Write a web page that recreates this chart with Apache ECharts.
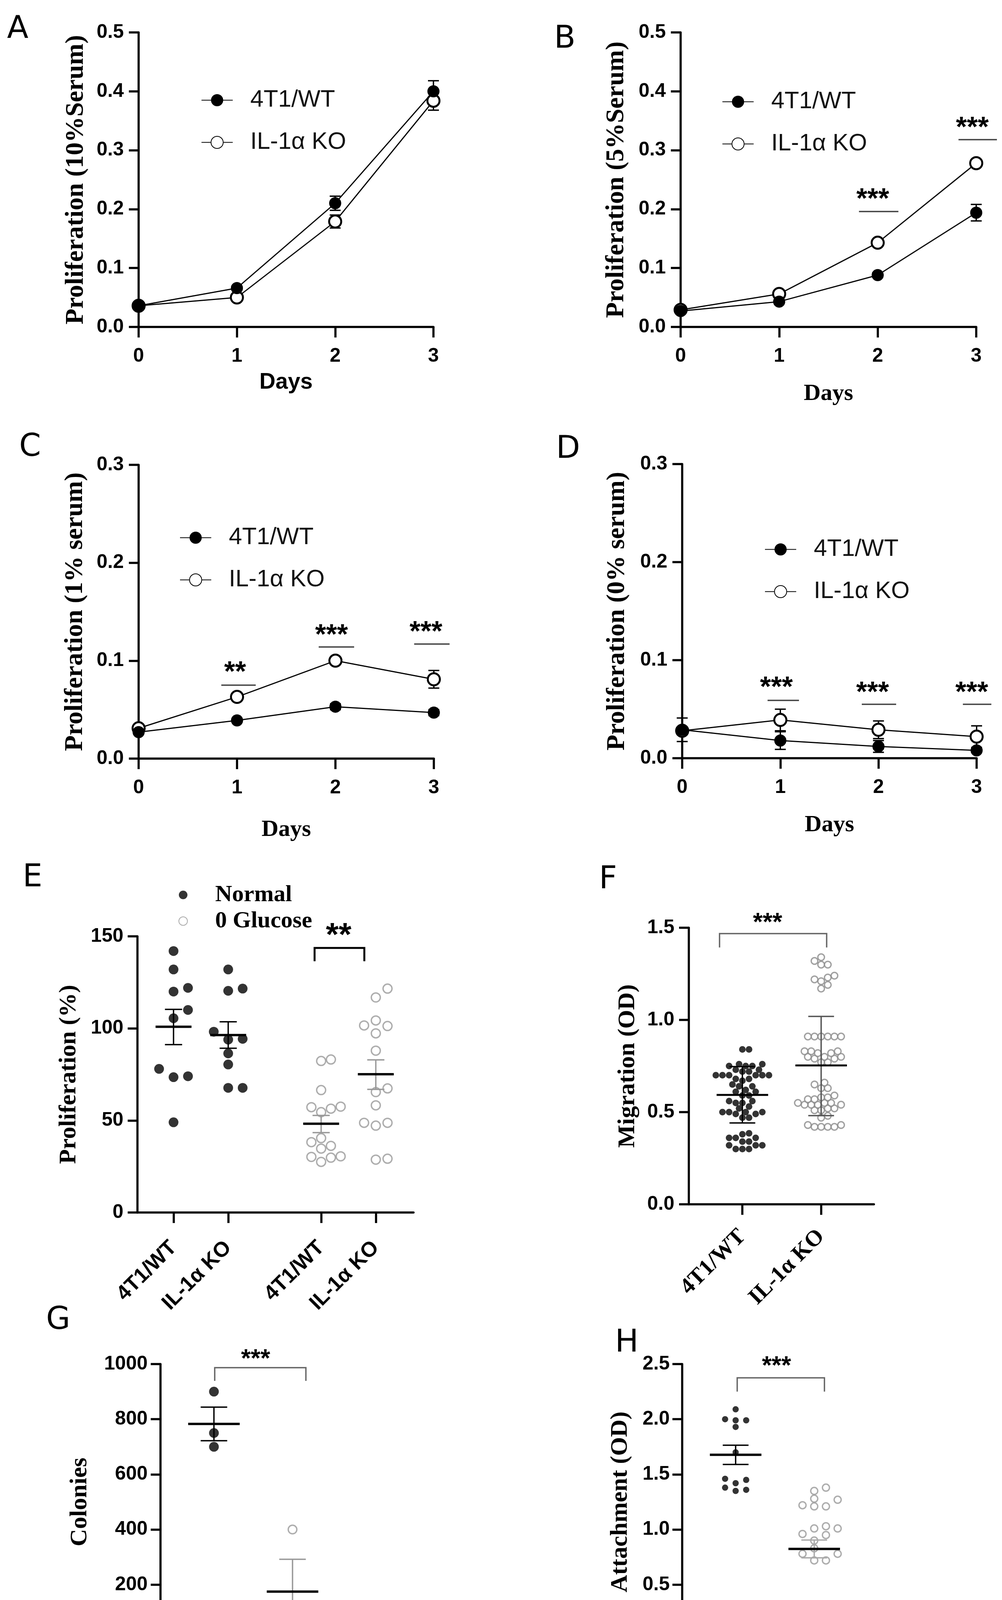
<!DOCTYPE html>
<html>
<head>
<meta charset="utf-8">
<title>4T1 WT vs IL-1α KO</title>
<script src="https://cdn.jsdelivr.net/npm/echarts@6/dist/echarts.min.js"></script>
<style>
  html, body { margin: 0; background: #fff; }
  #main { width: 2566px; height: 4475px; }
</style>
</head>
<body>
<div id="main"></div>
<script>
// ---- data ----
var days = [0, 1, 2, 3];
var wtName = '4T1/WT';
var koName = 'IL-1α KO';

// A: 10% serum
var aWT = [0.036, 0.066, 0.210, 0.400];
var aWTErr = [0, 0.003, 0.012, 0.018];
var aKO = [0.036, 0.050, 0.179, 0.384];
var aKOErr = [0, 0, 0.011, 0.016];

// B: 5% serum
var bWT = [0.027, 0.043, 0.088, 0.194];
var bWTErr = [0, 0, 0.004, 0.014];
var bKO = [0.029, 0.056, 0.143, 0.278];
var bKOErr = [0, 0, 0.005, 0.006];
// [x1, x2, y, drop, textX, textY, label]
var bSig = [[1.81, 2.21, 0.196, null, 1.95, 0.225, '***'],
            [2.82, 3.21, 0.318, null, 2.96, 0.346, '***']];

// C: 1% serum
var cWT = [0.027, 0.039, 0.053, 0.047];
var cWTErr = [0, 0, 0.003, 0.003];
var cKO = [0.031, 0.063, 0.100, 0.081];
var cKOErr = [0, 0.003, 0.003, 0.009];
var cSig = [[0.84, 1.19, 0.075, null, 0.98, 0.093, '**'],
            [1.83, 2.19, 0.114, null, 1.96, 0.131, '***'],
            [2.80, 3.16, 0.117, null, 2.92, 0.134, '***']];

// D: 0% serum
var dWT = [0.029, 0.018, 0.012, 0.008];
var dWTErr = [0.012, 0.009, 0.006, 0.002];
var dKO = [0.028, 0.039, 0.029, 0.022];
var dKOErr = [0.004, 0.011, 0.009, 0.011];
var dSig = [[0.87, 1.19, 0.059, null, 0.96, 0.077, '***'],
            [1.83, 2.18, 0.055, null, 1.94, 0.072, '***'],
            [2.86, 3.15, 0.055, null, 2.95, 0.072, '***']];

// E: proliferation (%), normal vs 0 glucose
var eCenters = [0.66, 1.66, 3.36, 4.36];
var eNames = ['4T1/WT', 'IL-1α KO', '4T1/WT', 'IL-1α KO'];
var eNormWT = [142, 132, 122, 120, 110, 105.5, 78, 73.5, 74, 49];
var eNormKO = [132, 121.6, 120.4, 98.2, 94.3, 93.9, 86.4, 80.4, 67.7, 67.7];
var eGluWT = [82.3, 83.1, 66.5, 57.2, 57.5, 54.5, 56.4, 40.4, 38.2, 36.2, 34.7, 30.5, 29.8, 30.2, 27.5];
var eGluKO = [121.6, 116.8, 104.3, 101.6, 101.3, 97.3, 87.9, 67.4, 65.4, 58.2, 48.7, 48.7, 47.2, 28.7, 29.2];
// [x, mean, low, high]
var eStats = [[0.66, 100.9, 91.2, 110.3], [1.66, 96.4, 89.2, 103.6],
              [3.36, 48.2, 43.4, 52.7], [4.36, 75.1, 66.9, 82.9]];
var eSig = [[3.24, 4.15, 143.7, 136.5, 3.68, 153.3, '**']];

// F: migration (OD)
var fCenters = [0.68, 1.68];
var fNames = ['4T1/WT', 'IL-1α KO'];
var fWT = [0.84, 0.84, 0.76, 0.76, 0.75, 0.75, 0.75, 0.73, 0.73, 0.72, 0.72,
           0.70, 0.70, 0.70, 0.70, 0.70, 0.70, 0.68, 0.68, 0.67, 0.65, 0.64, 0.64,
           0.62, 0.61, 0.61, 0.59, 0.59, 0.56, 0.56, 0.55, 0.55, 0.53, 0.52,
           0.50, 0.50, 0.50, 0.50, 0.49, 0.49, 0.47, 0.47, 0.38, 0.385,
           0.36, 0.36, 0.36, 0.34, 0.34, 0.32, 0.32, 0.32, 0.30, 0.30, 0.30];
var fKO = [1.34, 1.32, 1.30, 1.30, 1.24, 1.23, 1.22, 1.21, 1.19, 1.17,
           0.91, 0.91, 0.91, 0.91, 0.91, 0.91, 0.83, 0.83, 0.83, 0.82, 0.82,
           0.80, 0.80, 0.80, 0.79, 0.79, 0.77, 0.77, 0.66, 0.65, 0.63, 0.63,
           0.59, 0.58, 0.58, 0.57, 0.57, 0.55, 0.55, 0.55, 0.54, 0.54, 0.54, 0.54,
           0.52, 0.52, 0.51, 0.51, 0.48, 0.47, 0.43, 0.43, 0.42, 0.42, 0.42, 0.42];
var fStats = [[0.68, 0.593, 0.441, 0.747], [1.68, 0.753, 0.481, 1.019]];
var fSig = [[0.39, 1.75, 1.468, 1.393, 1.0, 1.55, '***']];

// G: colonies
var gCenters = [0.68, 1.68];
var gWT = [900, 750, 700];
var gKO = [400, 115, 5];
var gStats = [[0.68, 783, 722, 844], [1.68, 175, 55, 292]];
var gSig = [[0.69, 1.85, 987, 939, 1.21, 1033, '***']];

// H: attachment (OD)
var hCenters = [0.68, 1.68];
var hWT = [2.09, 2.00, 1.99, 1.99, 1.93, 1.70, 1.46, 1.45, 1.42, 1.38, 1.36, 1.35];
var hKO = [1.38, 1.35, 1.28, 1.27, 1.22, 1.21, 1.21, 1.03, 1.01, 1.01, 0.96, 0.95,
           0.90, 0.83, 0.78, 0.78, 0.72, 0.72, 0.24, 0.22, 0.20, 0.20, 0.20, 0.17];
var hStats = [[0.68, 1.678, 1.590, 1.764], [1.68, 0.824, 0.744, 0.905]];
var hSig = [[0.70, 1.81, 2.375, 2.25, 1.2, 2.52, '***']];

// ---- layout / style ----
var SANS = "'Liberation Sans', Arial, sans-serif";
var SERIF = "'Liberation Serif', 'Times New Roman', serif";
var AXW = 5.5;

var grids = [
  { left: 355, top: 83, width: 755, height: 754 },
  { left: 1743, top: 83, width: 757, height: 754 },
  { left: 355, top: 1190, width: 756, height: 752 },
  { left: 1747, top: 1188, width: 754, height: 753 },
  { left: 352, top: 2397, width: 707, height: 707 },
  { left: 1764, top: 2375, width: 474, height: 708 },
  { left: 411, top: 3492, width: 475, height: 706 },
  { left: 1747, top: 3492, width: 475, height: 706 }
];
var xMax = [3, 3, 3, 3, 5.05, 2.35, 2.36, 2.36];
var yMax = [0.5, 0.5, 0.3, 0.3, 150, 1.5, 1000, 2.5];

function pxX(i) { return grids[i].width / xMax[i]; }
function pxY(i) { return grids[i].height / yMax[i]; }

// column scatter layout: points pushed sideways in lanes until they don't overlap
function swarm(vals, cx, gi, step, minD) {
  var kx = pxX(gi), ky = pxY(gi);
  var order = vals.map(function (v, i) { return i; })
    .sort(function (a, b) { return vals[a] - vals[b]; });
  var placed = [];
  order.forEach(function (i) {
    var y = vals[i] * ky;
    for (var k = 0; k < 60; k++) {
      var lane = k === 0 ? 0 : (k % 2 ? (k + 1) / 2 : -k / 2);
      var x = lane * step;
      var hit = placed.some(function (p) {
        var dx = p[0] - x, dy = p[1] - y;
        return dx * dx + dy * dy < minD * minD;
      });
      if (!hit) { placed.push([x, y, i]); break; }
    }
  });
  return placed.map(function (p) { return [cx + p[0] / kx, vals[p[2]]]; });
}

function axisLineStyle() {
  return { show: true, onZero: false, lineStyle: { color: '#000', width: AXW } };
}

function yAxis(gi, step, digits, name, gap, nameSize, labelMargin) {
  return {
    type: 'value', gridIndex: gi, min: 0, max: yMax[gi], interval: step,
    name: name, nameLocation: 'middle', nameGap: gap, nameRotate: 90,
    nameTextStyle: { fontFamily: SERIF, fontWeight: 'bold', fontSize: nameSize, color: '#000' },
    axisLine: axisLineStyle(),
    axisTick: { show: true, length: 25, lineStyle: { color: '#000', width: AXW } },
    axisLabel: {
      fontFamily: SANS, fontWeight: 'bold', fontSize: 50, color: '#000', margin: labelMargin,
      formatter: function (v) { return v.toFixed(digits); }
    },
    splitLine: { show: false }
  };
}

function dayAxis(gi, gap, fam, size) {
  return {
    type: 'value', gridIndex: gi, min: 0, max: 3, interval: 1,
    name: 'Days', nameLocation: 'middle', nameGap: gap,
    nameTextStyle: { fontFamily: fam, fontWeight: 'bold', fontSize: size, color: '#000' },
    axisLine: axisLineStyle(),
    axisTick: { show: true, length: 27, lineStyle: { color: '#000', width: AXW } },
    axisLabel: { fontFamily: SANS, fontWeight: 'bold', fontSize: 50, color: '#000', margin: 50 },
    splitLine: { show: false }
  };
}

function groupAxis(gi, centers, names, fam, size, margin) {
  return {
    type: 'value', gridIndex: gi, min: 0, max: xMax[gi],
    axisLine: axisLineStyle(),
    axisTick: { show: true, length: 27, customValues: centers, lineStyle: { color: '#000', width: AXW } },
    axisLabel: {
      customValues: centers, rotate: 45, margin: margin,
      fontFamily: fam, fontWeight: 'bold', fontSize: size, color: '#000',
      formatter: function (v) {
        var best = 0;
        for (var i = 1; i < centers.length; i++) {
          if (Math.abs(centers[i] - v) < Math.abs(centers[best] - v)) best = i;
        }
        return names[best];
      }
    },
    splitLine: { show: false }
  };
}

function errRender(rows) {
  return function (params, api) {
    var r = rows[params.dataIndex];
    if (!r[2]) return null;
    var hi = api.coord([r[0], r[1] + r[2]]), lo = api.coord([r[0], r[1] - r[2]]);
    var c = 14, st = { stroke: '#000', lineWidth: 3.5 };
    return { type: 'group', children: [
      { type: 'line', shape: { x1: hi[0], y1: hi[1], x2: lo[0], y2: lo[1] }, style: st },
      { type: 'line', shape: { x1: hi[0] - c, y1: hi[1], x2: hi[0] + c, y2: hi[1] }, style: st },
      { type: 'line', shape: { x1: lo[0] - c, y1: lo[1], x2: lo[0] + c, y2: lo[1] }, style: st }
    ]};
  };
}

function sigRender(rows, color, lw, fs) {
  return function (params, api) {
    var r = rows[params.dataIndex];
    var p1 = api.coord([r[0], r[2]]), p2 = api.coord([r[1], r[2]]);
    var t = api.coord([r[4], r[5]]);
    var kids = [];
    if (r[3] != null) {
      var d = api.coord([r[0], r[3]]);
      kids.push({ type: 'polyline', shape: { points: [[p1[0], d[1]], p1, p2, [p2[0], d[1]]] },
                  style: { stroke: color, lineWidth: lw, fill: 'none' } });
    } else {
      kids.push({ type: 'line', shape: { x1: p1[0], y1: p1[1], x2: p2[0], y2: p2[1] },
                  style: { stroke: color, lineWidth: lw } });
    }
    kids.push({ type: 'text', style: {
      text: r[6], x: t[0], y: t[1] + fs * 0.2, fill: '#000', fontSize: fs, fontWeight: 'bold',
      fontFamily: SANS, align: 'center', verticalAlign: 'middle' } });
    return { type: 'group', children: kids };
  };
}

function statRender(rows, errColors, halfMean, halfCap, meanW) {
  return function (params, api) {
    var r = rows[params.dataIndex];
    var m = api.coord([r[0], r[1]]), lo = api.coord([r[0], r[2]]), hi = api.coord([r[0], r[3]]);
    var st = { stroke: errColors[params.dataIndex], lineWidth: 3.5 };
    return { type: 'group', children: [
      { type: 'line', shape: { x1: lo[0], y1: lo[1], x2: hi[0], y2: hi[1] }, style: st },
      { type: 'line', shape: { x1: hi[0] - halfCap, y1: hi[1], x2: hi[0] + halfCap, y2: hi[1] }, style: st },
      { type: 'line', shape: { x1: lo[0] - halfCap, y1: lo[1], x2: lo[0] + halfCap, y2: lo[1] }, style: st },
      { type: 'line', shape: { x1: m[0] - halfMean, y1: m[1], x2: m[0] + halfMean, y2: m[1] },
        style: { stroke: '#000', lineWidth: meanW } }
    ]};
  };
}

function pairs(xs, ys) { return xs.map(function (x, i) { return [x, ys[i]]; }); }

function timeSeries(gi, wt, wtErr, ko, koErr, sig) {
  var errRows = days.map(function (d, i) { return [d, wt[i], wtErr[i]]; })
    .concat(days.map(function (d, i) { return [d, ko[i], koErr[i]]; }));
  var list = [
    { type: 'custom', xAxisIndex: gi, yAxisIndex: gi, z: 1, clip: false,
      renderItem: errRender(errRows),
      data: errRows.map(function (r) { return [r[0], r[1]]; }) },
    { name: koName, type: 'line', xAxisIndex: gi, yAxisIndex: gi, z: 3,
      data: pairs(days, ko), symbol: 'circle', symbolSize: 31,
      itemStyle: { color: '#fff', borderColor: '#000', borderWidth: 5 },
      lineStyle: { color: '#000', width: 3 } },
    { name: wtName, type: 'line', xAxisIndex: gi, yAxisIndex: gi, z: 3,
      data: pairs(days, wt), symbol: 'circle', symbolSize: 31,
      itemStyle: { color: '#000' },
      lineStyle: { color: '#000', width: 3 } }
  ];
  if (sig) {
    list.push({ type: 'custom', xAxisIndex: gi, yAxisIndex: gi, z: 4, clip: false,
      renderItem: sigRender(sig, '#444', 3.5, 72),
      data: sig.map(function (r) { return [r[0], r[2]]; }) });
  }
  return list;
}

function dotSeries(gi, name, data, size, filled, grey) {
  return { name: name, type: 'scatter', xAxisIndex: gi, yAxisIndex: gi, z: 2,
    data: data, symbol: 'circle', symbolSize: size,
    itemStyle: filled ? { color: '#000' } : { color: '#fff', borderColor: grey, borderWidth: 3.5 } };
}

function statSeries(gi, rows, colors, halfMean, halfCap, meanW) {
  return { type: 'custom', xAxisIndex: gi, yAxisIndex: gi, z: 3, clip: false,
    renderItem: statRender(rows, colors, halfMean, halfCap, meanW),
    data: rows.map(function (r) { return [r[0], r[1]]; }) };
}

function sigSeries(gi, rows, color, lw, fs) {
  return { type: 'custom', xAxisIndex: gi, yAxisIndex: gi, z: 4, clip: false,
    renderItem: sigRender(rows, color, lw, fs),
    data: rows.map(function (r) { return [r[0], r[2]]; }) };
}

function lineLegend(left, top) {
  return { data: [wtName, koName], orient: 'vertical', left: left, top: top, padding: 0,
    itemWidth: 80, itemHeight: 39, itemGap: 47, selectedMode: false,
    textStyle: { fontFamily: SANS, fontSize: 61, color: '#111', padding: [0, 0, 0, 40] } };
}

var letters = [['A', 18, 36], ['B', 1419, 61], ['C', 49, 1106], ['D', 1424, 1111],
               ['E', 58, 2208], ['F', 1534, 2213], ['G', 118, 3341], ['H', 1575, 3399]];

var series = []
  .concat(timeSeries(0, aWT, aWTErr, aKO, aKOErr, null))
  .concat(timeSeries(1, bWT, bWTErr, bKO, bKOErr, bSig))
  .concat(timeSeries(2, cWT, cWTErr, cKO, cKOErr, cSig))
  .concat(timeSeries(3, dWT, dWTErr, dKO, dKOErr, dSig))
  .concat([
    dotSeries(4, 'Normal', swarm(eNormWT, eCenters[0], 4, 37, 25).concat(swarm(eNormKO, eCenters[1], 4, 37, 25)), 25, true),
    dotSeries(4, '0 Glucose', swarm(eGluWT, eCenters[2], 4, 25, 23).concat(swarm(eGluKO, eCenters[3], 4, 30, 23)), 23, false, '#999'),
    statSeries(4, eStats, ['#000', '#000', '#999', '#999'], 46, 22, 6),
    sigSeries(4, eSig, '#000', 5, 84),

    dotSeries(5, 'F WT', swarm(fWT, fCenters[0], 5, 8.5, 15), 17, true),
    dotSeries(5, 'F KO', swarm(fKO, fCenters[1], 5, 8.5, 15), 17, false, '#8a8a8a'),
    statSeries(5, fStats, ['#000', '#555'], 66, 33, 5),
    sigSeries(5, fSig, '#666', 3.5, 64),

    dotSeries(6, 'G WT', swarm(gWT, gCenters[0], 6, 25, 25), 25, true),
    dotSeries(6, 'G KO', swarm(gKO, gCenters[1], 6, 25, 25), 22, false, '#999'),
    statSeries(6, gStats, ['#000', '#999'], 66, 34, 6),
    sigSeries(6, gSig, '#666', 3.5, 64),

    dotSeries(7, 'H WT', swarm(hWT, hCenters[0], 7, 27, 16), 16, true),
    dotSeries(7, 'H KO', swarm(hKO, hCenters[1], 7, 30, 18), 18, false, '#999'),
    statSeries(7, hStats, ['#000', '#aaa'], 66, 33, 6),
    sigSeries(7, hSig, '#666', 3.5, 64)
  ]);

var chart = echarts.init(document.getElementById('main'));
chart.setOption({
  animation: false,
  backgroundColor: '#fff',
  title: letters.map(function (l) {
    return { text: l[0], left: l[1], top: l[2], padding: 0,
      textStyle: { fontFamily: "'DejaVu Sans', sans-serif", fontWeight: 'normal', fontSize: 80, color: '#000' } };
  }),
  legend: [
    lineLegend(515, 226),
    lineLegend(1849, 230),
    lineLegend(460, 1346),
    lineLegend(1958, 1376),
    { data: ['Normal', '0 Glucose'], orient: 'vertical', left: 457, top: 2261, padding: 0,
      itemWidth: 22, itemHeight: 22, itemGap: 7, selectedMode: false,
      textStyle: { fontFamily: SERIF, fontWeight: 'bold', fontSize: 60, color: '#000', padding: [0, 0, 0, 66] } }
  ],
  grid: grids.map(function (g) {
    return { left: g.left, top: g.top, width: g.width, height: g.height, outerBoundsMode: 'none' };
  }),
  xAxis: [
    dayAxis(0, 114, SANS, 57),
    dayAxis(1, 141, SERIF, 60),
    dayAxis(2, 152, SERIF, 60),
    dayAxis(3, 141, SERIF, 60),
    groupAxis(4, eCenters, eNames, SANS, 54, 82),
    groupAxis(5, fCenters, fNames, SERIF, 58, 74),
    groupAxis(6, gCenters, fNames, SERIF, 58, 70),
    groupAxis(7, hCenters, fNames, SERIF, 58, 72)
  ],
  yAxis: [
    yAxis(0, 0.1, 1, 'Proliferation (10%Serum)', 127, 66, 38),
    yAxis(1, 0.1, 1, 'Proliferation (5%Serum)', 131, 66, 38),
    yAxis(2, 0.1, 1, 'Proliferation (1% serum)', 129, 66, 38),
    yAxis(3, 0.1, 1, 'Proliferation (0% serum)', 133, 66, 38),
    yAxis(4, 50, 0, 'Proliferation (%)', 144, 62, 36),
    yAxis(5, 0.5, 1, 'Migration (OD)', 125, 62, 37),
    yAxis(6, 200, 0, 'Colonies', 175, 62, 33),
    yAxis(7, 0.5, 1, 'Attachment (OD)', 127, 62, 32)
  ],
  series: series
});
</script>
</body>
</html>
